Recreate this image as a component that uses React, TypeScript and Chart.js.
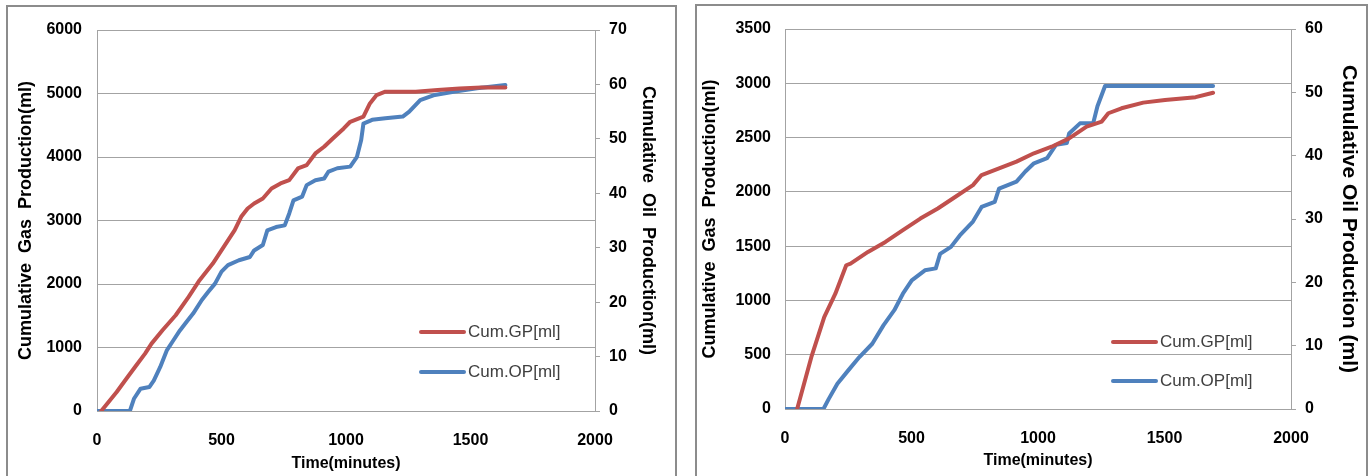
import React, { useEffect, useRef } from "react";
import { Chart, registerables } from "chart.js";
Chart.register(...registerables);

// ---------- data ----------
const timeTicks = [0, 500, 1000, 1500, 2000];

// Left chart
const leftGasTime = [17, 44, 79, 123, 158, 193, 219, 263, 316, 368, 412, 465, 509, 553, 579, 605, 631, 666, 701, 737, 772, 807, 842, 877, 912, 947, 991, 1017, 1070, 1096, 1123, 1158, 1280, 1368, 1456, 1544, 1640];
const leftGasValue = [0, 131, 300, 536, 720, 904, 1061, 1271, 1508, 1797, 2060, 2322, 2585, 2848, 3058, 3189, 3268, 3347, 3504, 3583, 3636, 3820, 3872, 4056, 4161, 4292, 4450, 4555, 4634, 4844, 4975, 5028, 5028, 5054, 5080, 5096, 5096];
const leftOilTime = [0, 132, 149, 175, 210, 228, 254, 281, 307, 333, 360, 386, 421, 447, 474, 500, 526, 570, 614, 631, 666, 684, 719, 754, 772, 789, 824, 842, 877, 912, 930, 965, 1017, 1044, 1061, 1070, 1105, 1158, 1228, 1254, 1298, 1351, 1438, 1526, 1640];
const leftOilValue = [0, 0, 2.3, 4.1, 4.4, 5.6, 8.1, 11.2, 13.0, 14.8, 16.4, 17.9, 20.4, 21.9, 23.4, 25.6, 26.8, 27.7, 28.3, 29.5, 30.5, 33.2, 33.8, 34.1, 36.3, 38.7, 39.4, 41.5, 42.4, 42.7, 44.0, 44.6, 44.9, 46.7, 49.8, 52.8, 53.5, 53.8, 54.1, 55.0, 57.1, 58.0, 58.7, 59.3, 59.9];
const leftGasTicks = [0, 1000, 2000, 3000, 4000, 5000, 6000];
const leftOilTicks = [0, 10, 20, 30, 40, 50, 60, 70];

// Right chart
const rightGasTime = [48, 104, 155, 199, 242, 259, 328, 397, 466, 535, 604, 674, 743, 777, 846, 915, 984, 1054, 1123, 1192, 1252, 1278, 1330, 1416, 1502, 1623, 1692];
const rightGasValue = [0, 477, 846, 1062, 1324, 1339, 1447, 1539, 1647, 1754, 1847, 1955, 2062, 2155, 2216, 2278, 2355, 2416, 2493, 2601, 2647, 2724, 2770, 2822, 2847, 2872, 2913];
const rightOilTime = [0, 152, 173, 207, 250, 294, 345, 389, 432, 466, 501, 553, 596, 613, 656, 691, 743, 777, 829, 846, 915, 950, 984, 1036, 1071, 1114, 1123, 1166, 1218, 1235, 1265, 1692];
const rightOilValue = [0, 0, 1.6, 4.0, 6.1, 8.2, 10.3, 13.2, 15.6, 18.2, 20.3, 21.9, 22.2, 24.5, 25.6, 27.4, 29.6, 31.9, 32.7, 34.8, 35.9, 37.5, 38.8, 39.6, 41.7, 42.0, 43.5, 45.1, 45.1, 47.8, 51.0, 51.0];
const rightGasTicks = [0, 500, 1000, 1500, 2000, 2500, 3000, 3500];
const rightOilTicks = [0, 10, 20, 30, 40, 50, 60];

const legendLabels = ["Cum.GP[ml]", "Cum.OP[ml]"];

// ---------- style ----------
const RED = "#C0504D";
const BLUE = "#4F81BD";
const GRID = "#a3a3a3";
const FAMILY = "'Liberation Sans', Arial, sans-serif";

const pts = (xs: number[], ys: number[]) => xs.map((x, i) => ({ x, y: ys[i] }));
const plain = (v: any) => String(v);

type Layout = {
  top: number;
  leftW: number;
  rightW: number;
  bottomH: number;
  leftTickPad: number;
  rightTickPad: number;
  leftTitlePad: number;
  rightTitlePad: number;
  xTitlePad: number;
  xTickPad: number;
  leftTitle: string;
  rightTitle: string;
  leftTitleSize: number;
  rightTitleSize: number;
  legendX: number;
  legendY: number[];
};

function makeConfig(
  gas: { x: number; y: number }[],
  oil: { x: number; y: number }[],
  gasTicks: number[],
  oilTicks: number[],
  L: Layout
): any {
  const legendPlugin = {
    id: "fixedLegend",
    afterDraw(chart: any) {
      const ctx = chart.ctx;
      ctx.save();
      const colors = [RED, BLUE];
      legendLabels.forEach((lab, i) => {
        const y = L.legendY[i];
        ctx.strokeStyle = colors[i];
        ctx.lineWidth = 4;
        ctx.lineCap = "round";
        ctx.beginPath();
        ctx.moveTo(L.legendX, y);
        ctx.lineTo(L.legendX + 43, y);
        ctx.stroke();
        ctx.fillStyle = "#404040";
        ctx.font = `17px ${FAMILY}`;
        ctx.textBaseline = "middle";
        ctx.textAlign = "left";
        ctx.fillText(lab, L.legendX + 47, y);
      });
      ctx.restore();
    },
  };
  const tickFont = { family: FAMILY, size: 16, weight: "bold" as const };
  return {
    type: "line",
    data: {
      datasets: [
        { label: legendLabels[0], data: gas, yAxisID: "y", borderColor: RED, borderWidth: 4, pointRadius: 0, tension: 0, borderCapStyle: "round", borderJoinStyle: "round" },
        { label: legendLabels[1], data: oil, yAxisID: "y1", borderColor: BLUE, borderWidth: 4, pointRadius: 0, tension: 0, borderCapStyle: "round", borderJoinStyle: "round" },
      ],
    },
    options: {
      animation: false,
      responsive: false,
      maintainAspectRatio: false,
      layout: { padding: { top: L.top, left: 0, right: 0, bottom: 0 } },
      plugins: { legend: { display: false }, tooltip: { enabled: false } },
      scales: {
        x: {
          type: "linear",
          min: 0,
          max: 2000,
          afterBuildTicks: (s: any) => { s.ticks = timeTicks.map((v) => ({ value: v })); },
          afterFit: (s: any) => { s.height = L.bottomH; },
          ticks: { font: tickFont, color: "#000", padding: L.xTickPad, maxRotation: 0, callback: plain },
          grid: { display: false },
          border: { display: true, color: GRID, width: 1 },
          title: { display: true, text: "Time(minutes)", color: "#000", font: tickFont, padding: { top: 0, bottom: L.xTitlePad } },
        },
        y: {
          type: "linear",
          position: "left",
          min: gasTicks[0],
          max: gasTicks[gasTicks.length - 1],
          afterBuildTicks: (s: any) => { s.ticks = gasTicks.map((v) => ({ value: v })); },
          afterFit: (s: any) => { s.width = L.leftW; },
          ticks: { font: tickFont, color: "#000", padding: L.leftTickPad, callback: plain },
          grid: { color: GRID, lineWidth: 1, drawTicks: false },
          border: { display: true, color: GRID, width: 1 },
          title: { display: true, text: L.leftTitle, color: "#000", font: { family: FAMILY, size: L.leftTitleSize, weight: "bold" }, padding: { top: L.leftTitlePad, bottom: 0 } },
        },
        y1: {
          type: "linear",
          position: "right",
          min: oilTicks[0],
          max: oilTicks[oilTicks.length - 1],
          afterBuildTicks: (s: any) => { s.ticks = oilTicks.map((v) => ({ value: v })); },
          afterFit: (s: any) => { s.width = L.rightW; },
          ticks: { font: tickFont, color: "#000", padding: L.rightTickPad, callback: plain },
          grid: { color: GRID, lineWidth: 1, drawOnChartArea: false, drawTicks: true, tickLength: 5, tickColor: GRID },
          border: { display: true, color: GRID, width: 1 },
          title: { display: true, text: L.rightTitle, color: "#000", font: { family: FAMILY, size: L.rightTitleSize, weight: "bold" }, padding: { top: L.rightTitlePad, bottom: 0 } },
        },
      },
    },
    plugins: [legendPlugin],
  };
}

function ChartPanel(props: { config: any; left: number }) {
  const ref = useRef<HTMLCanvasElement | null>(null);
  useEffect(() => {
    if (!ref.current) return;
    const c = new Chart(ref.current, props.config);
    return () => c.destroy();
  }, []);
  return (
    <canvas
      ref={ref}
      width={685}
      height={476}
      style={{ position: "absolute", left: props.left, top: 0, width: 685, height: 476 }}
    />
  );
}

const leftLayout: Layout = {
  top: 30, leftW: 97, rightW: 90, bottomH: 65,
  leftTickPad: 15, rightTickPad: 9, leftTitlePad: 15, rightTitlePad: 26,
  xTitlePad: 3, xTickPad: 12,
  leftTitle: "Cumulative  Gas  Production(ml)",
  rightTitle: "Cumulative  Oil  Production(ml)",
  leftTitleSize: 18,
  rightTitleSize: 18,
  legendX: 421, legendY: [332, 372],
};

const rightLayout: Layout = {
  top: 29, leftW: 100, rightW: 79, bottomH: 67,
  leftTickPad: 14, rightTickPad: 9, leftTitlePad: 14, rightTitlePad: 9,
  xTitlePad: 6, xTickPad: 12,
  leftTitle: "Cumulative  Gas  Production(ml)",
  rightTitle: "Cumulative Oil Production (ml)",
  leftTitleSize: 18,
  rightTitleSize: 21,
  legendX: 428, legendY: [342, 381],
};

export default function App() {
  const leftCfg = makeConfig(pts(leftGasTime, leftGasValue), pts(leftOilTime, leftOilValue), leftGasTicks, leftOilTicks, leftLayout);
  const rightCfg = makeConfig(pts(rightGasTime, rightGasValue), pts(rightOilTime, rightOilValue), rightGasTicks, rightOilTicks, rightLayout);
  return (
    <div style={{ position: "fixed", left: 0, top: 0, width: 1370, height: 476, background: "#fff", overflow: "hidden" }}>
      <ChartPanel config={leftCfg} left={0} />
      <ChartPanel config={rightCfg} left={685} />
      <div style={{ position: "absolute", left: 6, top: 5, width: 667, height: 480, border: "2px solid #8c8c8c", pointerEvents: "none" }} />
      <div style={{ position: "absolute", left: 695, top: 4, width: 669, height: 480, border: "2px solid #8c8c8c", pointerEvents: "none" }} />
    </div>
  );
}
